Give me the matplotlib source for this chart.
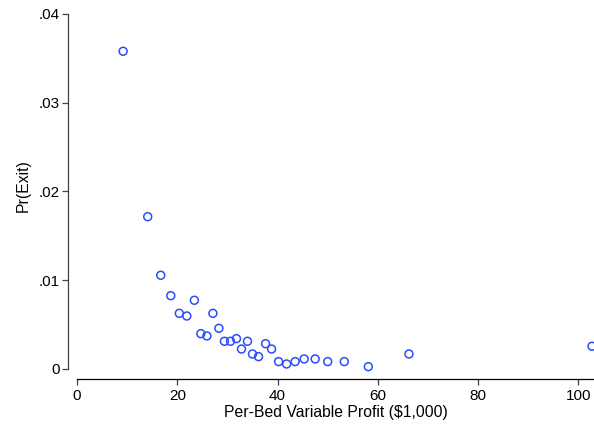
import numpy as np
import matplotlib.pyplot as plt

plt.rcParams['font.family'] = ['Liberation Sans', 'DejaVu Sans']

# per-bed variable profit ($1,000) and exit probability
profit = [9.2, 14.1, 16.7, 18.7, 20.4, 21.9, 23.4, 24.7, 25.9, 27.1,
          28.3, 29.4, 30.6, 31.8, 32.8, 34.0, 35.0, 36.2, 37.6, 38.8,
          40.2, 41.8, 43.5, 45.3, 47.5, 50.0, 53.3, 58.1, 66.2, 102.7]
pr_exit = [0.0358, 0.01716, 0.01056, 0.00826, 0.00627, 0.00597, 0.00774, 0.00398, 0.00372, 0.00627,
           0.00458, 0.00312, 0.00312, 0.00342, 0.00225, 0.00312, 0.00169, 0.00139, 0.00285, 0.00225,
           0.00083, 0.00056, 0.00083, 0.00113, 0.00113, 0.00083, 0.00083, 0.00026, 0.00169, 0.00256]

x_ticks = [0, 20, 40, 60, 80, 100]
y_ticks = [0, 0.01, 0.02, 0.03, 0.04]
y_labels = ['0', '.01', '.02', '.03', '.04']

W, H = 594, 425
fig = plt.figure(figsize=(W / 100, H / 100), dpi=100)
ax = fig.add_axes([77 / W, (H - 379) / H, (W - 77) / W, (379 - 14) / H])

ax.scatter(profit, pr_exit, s=5.7 ** 2, facecolors='none',
           edgecolors='#2b4cff', linewidths=1.1, clip_on=False, zorder=3)

ax.set_xlim(0, 103.1)
ax.set_ylim(-0.00113, 0.04)

for s in ['top', 'right']:
    ax.spines[s].set_visible(False)
axis_col = '#404040'
ax.spines['left'].set_position(('outward', 6.5))
ax.spines['left'].set_bounds(0, 0.04)
ax.spines['left'].set_color(axis_col)
ax.spines['bottom'].set_color('black')
ax.spines['left'].set_linewidth(0.9)
ax.spines['bottom'].set_linewidth(0.9)

ax.set_xticks(x_ticks)
ax.set_yticks(y_ticks)
ax.set_yticklabels(y_labels)
ax.tick_params(axis='both', labelsize=11, width=0.9, color=axis_col)
ax.tick_params(axis='x', length=4, pad=3)
ax.tick_params(axis='y', length=4.5, pad=1.5)

ax.set_xlabel('Per-Bed Variable Profit ($1,000)', fontsize=11.3, labelpad=2)
ax.set_ylabel('Pr(Exit)', fontsize=11.3)
ax.yaxis.set_label_coords(-0.089, 0.531)

fig.savefig('out.png', dpi=100)
